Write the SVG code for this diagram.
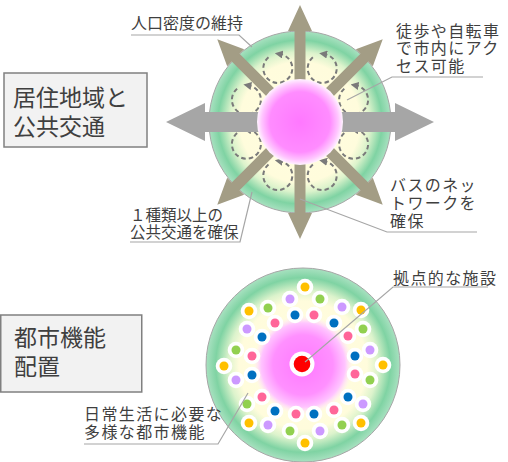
<svg xmlns="http://www.w3.org/2000/svg" xmlns:xlink="http://www.w3.org/1999/xlink" width="508" height="462" viewBox="0 0 508 462">
<style>
  .lbl { font-family: "Noto Sans CJK JP", "Noto Sans", sans-serif; fill: #3f3f3f; }
  .r { font-size: 16px; letter-spacing: 1.4px; }
  .box { fill: #f2f2f2; stroke: #808080; stroke-width: 1.5; }
  .conn { fill: none; stroke: #a6a6a6; stroke-width: 1.2; }
  .loop { fill: none; stroke: #7a7a7a; stroke-width: 2; stroke-dasharray: 4.5 3; }
  .taupe { fill: #a39d85; }
  .gray { fill: #a6a6a6; }
  .w { fill: #ffffff; }
  .o { fill: #ffc000; } .p { fill: #cc99ff; } .g { fill: #92d050; } .b { fill: #0070c0; } .k { fill: #ff6699; }
</style>
<defs>
  <radialGradient id="ring" cx="0.5" cy="0.5" r="0.5">
    <stop offset="0" stop-color="#fffde0"/>
    <stop offset="0.66" stop-color="#fffcdc"/>
    <stop offset="0.77" stop-color="#dcf3cc"/>
    <stop offset="0.9" stop-color="#7fd3a3"/>
    <stop offset="1" stop-color="#a8e1c0"/>
  </radialGradient>
  <radialGradient id="pinkTop" cx="0.5" cy="0.5" r="0.5">
    <stop offset="0" stop-color="#ff78ff"/>
    <stop offset="0.7" stop-color="#ff8cff"/>
    <stop offset="0.89" stop-color="#ffc6ff"/>
    <stop offset="1" stop-color="#fff4ff"/>
  </radialGradient>
  <radialGradient id="pinkBot" cx="0.5" cy="0.5" r="0.5">
    <stop offset="0" stop-color="#ff78ff"/>
    <stop offset="0.6" stop-color="#ff90ff"/>
    <stop offset="0.84" stop-color="#ffc4ff"/>
    <stop offset="1" stop-color="#ffeeff" stop-opacity="0"/>
  </radialGradient>
  <marker id="ah" viewBox="0 0 10 10" refX="3" refY="5" markerWidth="8" markerHeight="8" markerUnits="userSpaceOnUse" orient="auto">
    <path d="M0,0 L10,5 L0,10 z" fill="#7a7a7a"/>
  </marker>
  <path id="loop" class="loop" d="M-9.32,-11.11 A14.5,14.5 0 1 0 2.52,-14.28" marker-end="url(#ah)"/>
  <polygon id="tArrow" class="taupe" points="0,-5.5 91,-5.5 91,-12 117,0 91,12 91,5.5 0,5.5"/>
  <polygon id="gArrow" class="gray" points="0,-10 95,-10 95,-19 134,0 95,19 95,10 0,10"/>
</defs>

<g id="box-residential">
  <rect class="box" x="4" y="73" width="143" height="74"/>
  <text class="lbl" font-size="23"><tspan x="13" y="106">居住地域と</tspan><tspan x="13" y="135">公共交通</tspan></text>
</g>

<g id="box-urban">
  <rect class="box" x="0.75" y="315" width="141" height="77"/>
  <text class="lbl" font-size="23"><tspan x="14" y="346">都市機能</tspan><tspan x="14" y="375">配置</tspan></text>
</g>

<g id="circle-residential">
  <circle cx="300" cy="122" r="91" fill="url(#ring)" stroke="#a6a6a6" stroke-width="1"/>
  <g id="loops">
    <use xlink:href="#loop" href="#loop" x="353.6" y="99.8"/>
    <use xlink:href="#loop" href="#loop" x="353.6" y="144.2"/>
    <use xlink:href="#loop" href="#loop" x="246.4" y="99.8"/>
    <use xlink:href="#loop" href="#loop" x="246.4" y="144.2"/>
    <use xlink:href="#loop" href="#loop" x="322.2" y="68.4"/>
    <use xlink:href="#loop" href="#loop" x="322.2" y="175.6"/>
    <use xlink:href="#loop" href="#loop" x="277.8" y="68.4"/>
    <use xlink:href="#loop" href="#loop" x="277.8" y="175.6"/>
  </g>
  <g id="arrows" transform="translate(300,122)">
    <use xlink:href="#tArrow" href="#tArrow" transform="rotate(-90)"/>
    <use xlink:href="#tArrow" href="#tArrow" transform="rotate(90)"/>
    <use xlink:href="#tArrow" href="#tArrow" transform="rotate(-45)"/>
    <use xlink:href="#tArrow" href="#tArrow" transform="rotate(-135)"/>
    <use xlink:href="#tArrow" href="#tArrow" transform="rotate(45)"/>
    <use xlink:href="#tArrow" href="#tArrow" transform="rotate(135)"/>
    <use xlink:href="#gArrow" href="#gArrow"/>
    <use xlink:href="#gArrow" href="#gArrow" transform="rotate(180)"/>
  </g>
  <circle cx="300" cy="122" r="43" fill="url(#pinkTop)"/>
</g>

<g id="circle-urban">
  <circle cx="303" cy="365" r="97" fill="url(#ring)" stroke="#a6a6a6" stroke-width="1"/>
  <circle cx="303" cy="365" r="50" fill="url(#pinkBot)"/>
  <g id="dots">
    <circle class="w" cx="305" cy="287" r="8.3"/><circle class="o" cx="305" cy="287" r="4.5"/>
    <circle class="w" cx="249" cy="311" r="8.3"/><circle class="o" cx="249" cy="311" r="4.5"/>
    <circle class="w" cx="361" cy="310" r="8.3"/><circle class="o" cx="361" cy="310" r="4.5"/>
    <circle class="w" cx="224" cy="366" r="8.3"/><circle class="o" cx="224" cy="366" r="4.5"/>
    <circle class="w" cx="383" cy="365" r="8.3"/><circle class="o" cx="383" cy="365" r="4.5"/>
    <circle class="w" cx="249" cy="423" r="8.3"/><circle class="o" cx="249" cy="423" r="4.5"/>
    <circle class="w" cx="361" cy="423" r="8.3"/><circle class="o" cx="361" cy="423" r="4.5"/>
    <circle class="w" cx="305" cy="443" r="8.3"/><circle class="o" cx="305" cy="443" r="4.5"/>

    <circle class="w" cx="290" cy="299" r="8.3"/><circle class="p" cx="290" cy="299" r="4.5"/>
    <circle class="w" cx="342" cy="307" r="8.3"/><circle class="p" cx="342" cy="307" r="4.5"/>
    <circle class="w" cx="247" cy="329" r="8.3"/><circle class="p" cx="247" cy="329" r="4.5"/>
    <circle class="w" cx="370" cy="350" r="8.3"/><circle class="p" cx="370" cy="350" r="4.5"/>
    <circle class="w" cx="236" cy="380" r="8.3"/><circle class="p" cx="236" cy="380" r="4.5"/>
    <circle class="w" cx="363" cy="404" r="8.3"/><circle class="p" cx="363" cy="404" r="4.5"/>
    <circle class="w" cx="268" cy="425" r="8.3"/><circle class="p" cx="268" cy="425" r="4.5"/>
    <circle class="w" cx="320" cy="431" r="8.3"/><circle class="p" cx="320" cy="431" r="4.5"/>

    <circle class="w" cx="320" cy="299" r="8.3"/><circle class="g" cx="320" cy="299" r="4.5"/>
    <circle class="w" cx="268" cy="308" r="8.3"/><circle class="g" cx="268" cy="308" r="4.5"/>
    <circle class="w" cx="363" cy="329" r="8.3"/><circle class="g" cx="363" cy="329" r="4.5"/>
    <circle class="w" cx="236" cy="350" r="8.3"/><circle class="g" cx="236" cy="350" r="4.5"/>
    <circle class="w" cx="370" cy="380" r="8.3"/><circle class="g" cx="370" cy="380" r="4.5"/>
    <circle class="w" cx="247" cy="404" r="8.3"/><circle class="g" cx="247" cy="404" r="4.5"/>
    <circle class="w" cx="290" cy="431" r="8.3"/><circle class="g" cx="290" cy="431" r="4.5"/>
    <circle class="w" cx="342" cy="425" r="8.3"/><circle class="g" cx="342" cy="425" r="4.5"/>

    <circle class="w" cx="295" cy="315" r="8.3"/><circle class="b" cx="295" cy="315" r="4.5"/>
    <circle class="w" cx="334" cy="323" r="8.3"/><circle class="b" cx="334" cy="323" r="4.5"/>
    <circle class="w" cx="262" cy="337" r="8.3"/><circle class="b" cx="262" cy="337" r="4.5"/>
    <circle class="w" cx="355" cy="356" r="8.3"/><circle class="b" cx="355" cy="356" r="4.5"/>
    <circle class="w" cx="252" cy="375" r="8.3"/><circle class="b" cx="252" cy="375" r="4.5"/>
    <circle class="w" cx="348" cy="397" r="8.3"/><circle class="b" cx="348" cy="397" r="4.5"/>
    <circle class="w" cx="275" cy="411" r="8.3"/><circle class="b" cx="275" cy="411" r="4.5"/>
    <circle class="w" cx="314" cy="414" r="8.3"/><circle class="b" cx="314" cy="414" r="4.5"/>

    <circle class="w" cx="314" cy="315" r="8.3"/><circle class="k" cx="314" cy="315" r="4.5"/>
    <circle class="w" cx="275" cy="323" r="8.3"/><circle class="k" cx="275" cy="323" r="4.5"/>
    <circle class="w" cx="348" cy="336" r="8.3"/><circle class="k" cx="348" cy="336" r="4.5"/>
    <circle class="w" cx="252" cy="356" r="8.3"/><circle class="k" cx="252" cy="356" r="4.5"/>
    <circle class="w" cx="355" cy="374" r="8.3"/><circle class="k" cx="355" cy="374" r="4.5"/>
    <circle class="w" cx="262" cy="397" r="8.3"/><circle class="k" cx="262" cy="397" r="4.5"/>
    <circle class="w" cx="296" cy="414" r="8.3"/><circle class="k" cx="296" cy="414" r="4.5"/>
    <circle class="w" cx="334" cy="410" r="8.3"/><circle class="k" cx="334" cy="410" r="4.5"/>
  </g>
  <g id="core-facility">
    <circle cx="302" cy="364" r="12.5" fill="#ffffff"/>
    <circle cx="302" cy="364" r="8.3" fill="#ff0000"/>
  </g>
</g>

<g id="connectors">
  <polyline class="conn" points="131,35 239,35 252,47"/>
  <polyline class="conn" points="483,77 392,77 347,100"/>
  <polyline class="conn" points="477,232 387,232 300,199"/>
  <polyline class="conn" points="130,242 240,242 252,192"/>
  <polyline class="conn" points="488,287 393,287 305,362"/>
  <polyline class="conn" points="84,444 218,444 248,393"/>
</g>

<g id="label-density">
  <text class="lbl" font-size="16" x="131" y="29">人口密度の維持</text>
</g>
<g id="label-access">
  <text class="lbl r"><tspan x="396" y="36.5">徒歩や自転車</tspan><tspan x="396" y="54">で市内にアク</tspan><tspan x="396" y="71.5">セス可能</tspan></text>
</g>
<g id="label-bus">
  <text class="lbl r"><tspan x="390" y="190.5">バスのネッ</tspan><tspan x="390" y="208.5">トワークを</tspan><tspan x="390" y="226.5">確保</tspan></text>
</g>
<g id="label-transit">
  <text class="lbl" font-size="15.5"><tspan x="130" y="221">１種類以上の</tspan><tspan x="130" y="238">公共交通を確保</tspan></text>
</g>
<g id="label-facility">
  <text class="lbl r" x="393" y="283.5">拠点的な施設</text>
</g>
<g id="label-functions">
  <text class="lbl r"><tspan x="84" y="420">日常生活に必要な</tspan><tspan x="84" y="438">多様な都市機能</tspan></text>
</g>
</svg>
